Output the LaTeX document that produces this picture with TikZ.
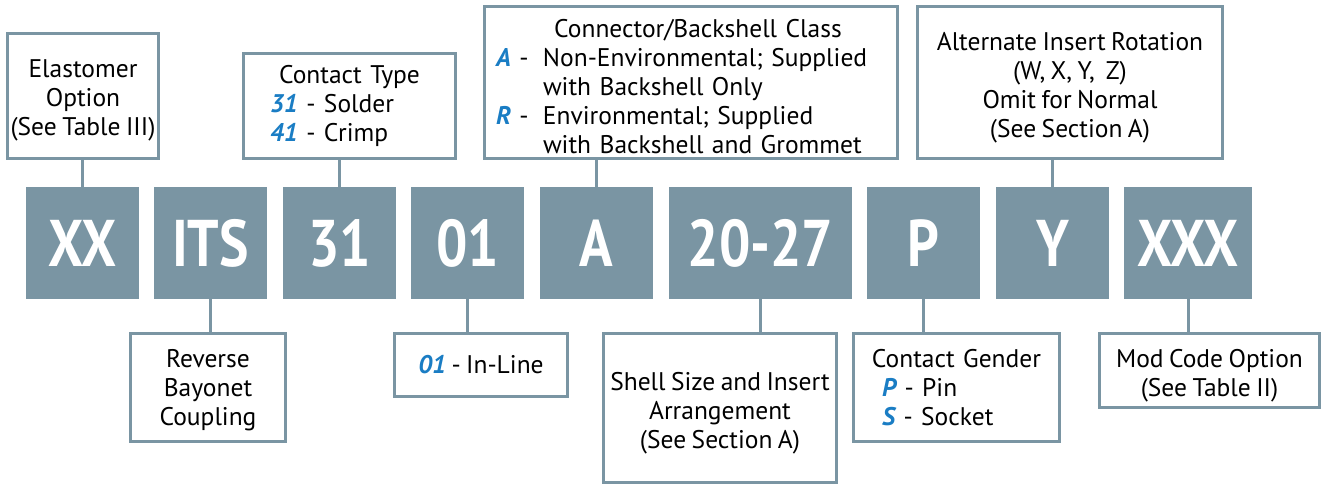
\documentclass[tikz,border=0pt]{standalone}
\usepackage{fontspec}
\setmainfont{PT Sans}[WordSpace=0.8]
\newfontfamily\codefont[FakeStretch=0.84]{PT Sans}
\usetikzlibrary{positioning}
\definecolor{slate}{HTML}{7A95A3}
\definecolor{optblue}{HTML}{1A7DC4}
\newcommand{\opt}[1]{{\color{optblue}\bfseries\itshape #1}}
\newcommand{\lift}[1]{\rule{0pt}{#1}}

\begin{document}
\begin{tikzpicture}[x=1pt,y=-1pt,
    code/.style={fill=slate,minimum width=113pt,minimum height=112pt,inner sep=0pt,
      text=white,font=\codefont\bfseries\fontsize{66}{66}\selectfont},
    infobox/.style={draw=slate,line width=3pt,fill=white,inner sep=0pt,
      font=\fontsize{25.5}{29}\selectfont},
    link/.style={draw=slate,line width=3pt}]
    \useasboundingbox (0,0) rectangle (1323,485);
    % part number fields
    \node[code] (cxx) at (82.5,243) {XX};
    \node[code] (cits) at (210.5,243) {ITS};
    \node[code] (c31) at (339.5,243) {31};
    \node[code] (c01) at (467.5,243) {01};
    \node[code] (ca) at (596.5,243) {A};
    \node[code,minimum width=183pt] (csize) at (760.5,243) {20-27};
    \node[code] (cp) at (923.5,243) {P};
    \node[code] (cy) at (1052.5,243) {Y};
    \node[code,minimum width=128pt] (cmod) at (1188,243) {XXX};
    % upper boxes
    \node[infobox,minimum width=151pt,minimum height=125pt,align=center] (elast) at (83,96)
        {\lift{27pt}Elastomer\\Option\\(See Table III)};
    \node[infobox,minimum height=105pt,text width=159pt,inner xsep=26.5pt,align=left] (ctype) at (349.5,106)
        {\makebox[159pt]{Contact Type}\\\opt{31} - Solder\\\opt{41} - Crimp};
    \node[infobox,minimum height=152pt,text width=390pt,inner xsep=11.5pt,align=left] (cclass) at (691,82.5)
        {\makebox[390pt]{\lift{26pt}\hspace{14pt}Connector/Backshell Class}\\
         \makebox[47pt][l]{\opt{A} -}Non-Environmental; Supplied\\
         \hspace*{47pt}with Backshell Only\\
         \makebox[47pt][l]{\opt{R} -}Environmental; Supplied\\
         \hspace*{47pt}with Backshell and Grommet};
    \node[infobox,minimum width=305pt,minimum height=152pt,align=center] (altrot) at (1070,82.5)
        {\lift{29pt}Alternate Insert Rotation\\(W, X, Y,\ \ Z)\\Omit for Normal\\(See Section A)};
    % lower boxes
    \node[infobox,minimum width=155pt,minimum height=108pt,align=center] (coupling) at (208,387.5)
        {\lift{23pt}Reverse\\Bayonet\\Coupling};
    \node[infobox,minimum width=173pt,minimum height=63pt] (inline) at (481,365)
        {\opt{01} - In-Line};
    \node[infobox,minimum width=233pt,minimum height=149pt,align=center] (shell) at (720,408)
        {\lift{29pt}Shell Size and Insert\\Arrangement\\(See Section A)};
    \node[infobox,minimum height=108pt,text width=149pt,inner xsep=28.5pt,align=left] (gender) at (956.5,387.5)
        {\makebox[149pt]{Contact Gender}\\\opt{P} - Pin\\\opt{S} - Socket};
    \node[infobox,minimum width=220pt,minimum height=74pt,align=center] (modcode) at (1209.5,370.5)
        {\lift{29pt}Mod Code Option\\(See Table II)};
    % leaders
    \draw[link] (cxx.north) -- (cxx.north |- elast.south);
    \draw[link] (c31.north) -- (c31.north |- ctype.south);
    \draw[link] (ca.north) -- (ca.north |- cclass.south);
    \draw[link] (cy.north) -- (cy.north |- altrot.south);
    \draw[link] (cits.south) -- (cits.south |- coupling.north);
    \draw[link] (c01.south) -- (c01.south |- inline.north);
    \draw[link] (csize.south) -- (csize.south |- shell.north);
    \draw[link] (cp.south) -- (cp.south |- gender.north);
    \draw[link] (cmod.south) -- (cmod.south |- modcode.north);
\end{tikzpicture}
\end{document}
